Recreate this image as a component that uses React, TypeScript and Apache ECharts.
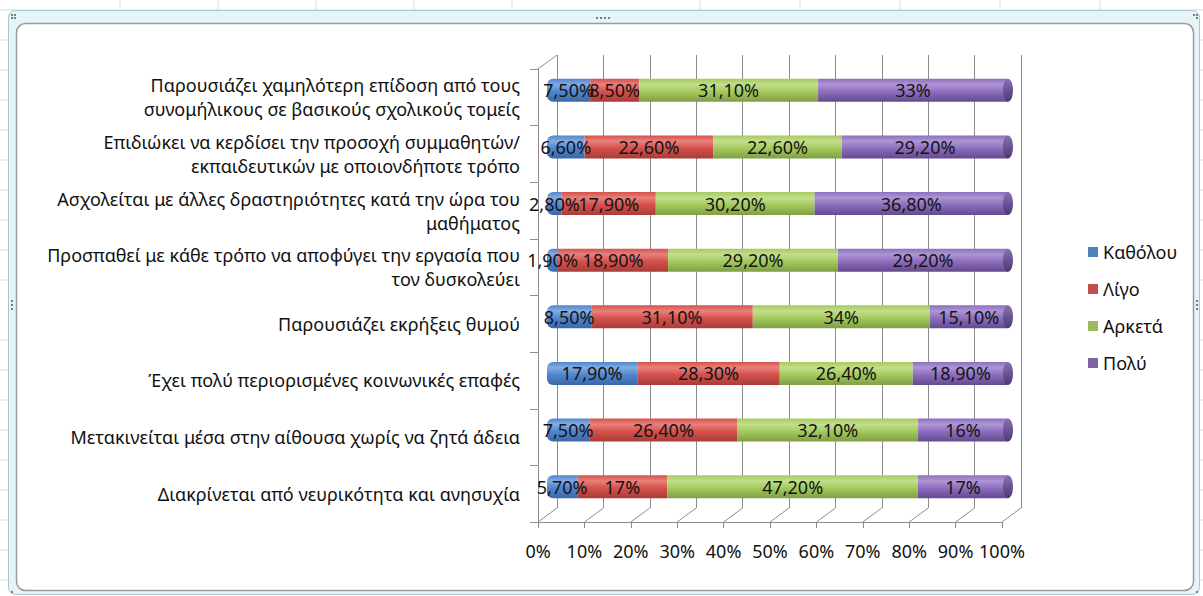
import React, { useEffect, useRef } from "react";
import * as echarts from "echarts";

const categories = [
  "Παρουσιάζει χαμηλότερη επίδοση από τους\nσυνομήλικους σε βασικούς σχολικούς τομείς",
  "Επιδιώκει να κερδίσει την προσοχή συμμαθητών/\nεκπαιδευτικών με οποιονδήποτε τρόπο",
  "Ασχολείται με άλλες δραστηριότητες κατά την ώρα του\nμαθήματος",
  "Προσπαθεί με κάθε τρόπο να αποφύγει την εργασία που\nτον δυσκολεύει",
  "Παρουσιάζει εκρήξεις θυμού",
  "Έχει πολύ περιορισμένες κοινωνικές επαφές",
  "Μετακινείται μέσα στην αίθουσα χωρίς να ζητά άδεια",
  "Διακρίνεται από νευρικότητα και ανησυχία",
];
const seriesNames = ["Καθόλου", "Λίγο", "Αρκετά", "Πολύ"];
const katholou = [7.5, 6.6, 2.8, 1.9, 8.5, 17.9, 7.5, 5.7];
const ligo = [8.5, 22.6, 17.9, 18.9, 31.1, 28.3, 26.4, 17];
const arketa = [31.1, 22.6, 30.2, 29.2, 34, 26.4, 32.1, 47.2];
const poly = [33, 29.2, 36.8, 29.2, 15.1, 18.9, 16, 17];
const xTicks = [0, 10, 20, 30, 40, 50, 60, 70, 80, 90, 100];

const legendColors = ["#4F81BD", "#C0504D", "#9BBB59", "#8064A2"];
const barShades = [
  ["#86ABE0", "#4F86D0", "#3B68A8"],
  ["#E8817D", "#D6514C", "#A83C38"],
  ["#C3DE8E", "#A5CB5E", "#7F9E45"],
  ["#AE96D4", "#8E6EBF", "#644A8E"],
];

const FONT = "Noto Sans";
const DX = 19;
const DY = -14;

function fmt(v: number) {
  return Number.isInteger(v) ? `${v}%` : `${v.toFixed(2).replace(".", ",")}%`;
}

export default function App() {
  const ref = useRef<HTMLDivElement>(null);
  useEffect(() => {
    document.body.style.margin = "0";
    if (!ref.current) return;
    const chart = echarts.init(ref.current, undefined, { renderer: "svg" });
    const raw = [katholou, ligo, arketa, poly];
    const totals = categories.map((_, i) => raw.reduce((s, a) => s + a[i], 0));

    const grad = (c: string[]) =>
      new echarts.graphic.LinearGradient(0, 0, 0, 1, [
        { offset: 0, color: c[1] },
        { offset: 0.25, color: c[0] },
        { offset: 0.55, color: c[1] },
        { offset: 1, color: c[2] },
      ]);

    const barSeries = raw.map((arr, si) => ({
      name: seriesNames[si],
      type: "bar",
      stack: "total",
      xAxisIndex: 2,
      yAxisIndex: 3,
      barWidth: 23,
      data: arr.map((v, i) => ({ value: (v / totals[i]) * 100, raw: v })),
      itemStyle: {
        color: grad(barShades[si]),
        borderRadius: si === 0 ? [6, 0, 0, 6] : 0,
      },
      label: {
        show: true,
        position: "inside",
        fontFamily: FONT,
        fontSize: 18,
        color: "#141414",
        formatter: (p: any) => fmt(p.data.raw),
      },
      emphasis: { disabled: true },
    }));

    const gridLineColor = "#8C8C8C";

    chart.setOption({
      animation: false,
      backgroundColor: "#fff",
      graphic: [
        { type: "line", shape: { x1: 0, y1: 10, x2: 1203, y2: 10 }, style: { stroke: "#D5DCE8", lineWidth: 1 }, z: -10 },
        ...[120, 218, 316, 414, 512, 700, 800, 900, 1000, 1100].map((x) => ({
          type: "line", shape: { x1: x, y1: 0, x2: x, y2: 10 }, style: { stroke: "#D5DCE8", lineWidth: 1 }, z: -10,
        })),
        ...[40, 70, 100, 130, 160, 190, 220, 250, 280, 340, 370, 400, 430, 460, 490, 520, 550, 580].map((y) => ({
          type: "line", shape: { x1: 0, y1: y, x2: 1203, y2: y }, style: { stroke: "#D5DCE8", lineWidth: 1 }, z: -10,
        })),
        {
          type: "rect",
          shape: { x: 8.5, y: 10.5, width: 1191, height: 584, r: 7 },
          style: { fill: "#E4F4F7", stroke: "#A9C6CF", lineWidth: 1 },
          z: -9,
        },
        {
          type: "rect",
          shape: { x: 16.5, y: 23.5, width: 1177, height: 567, r: 9 },
          style: { fill: "#FFFFFF", stroke: "#9A9A9A", lineWidth: 1.5 },
          z: -8,
        },
        ...[[11, 14], [14, 14], [11, 17], [14, 17], [1193, 14], [1196, 14], [1196, 17], [1196, 591], [11, 591], [596, 17], [600, 17], [604, 17], [608, 17], [11, 300], [11, 304], [11, 308], [1196, 300], [1196, 304], [1196, 308]].map(([x, y]) => ({
          type: "rect", shape: { x, y, width: 2, height: 2 }, style: { fill: "#6E7F86" }, z: -7,
        })),
      ],
      legend: {
        orient: "vertical",
        left: 1083,
        top: 238,
        itemWidth: 10,
        itemHeight: 10,
        itemGap: 19,
        icon: "rect",
        textStyle: { fontFamily: FONT, fontSize: 18, color: "#111" },
        data: seriesNames.map((n, i) => ({ name: n, itemStyle: { color: legendColors[i] } })),
      },
      grid: [
        { left: 538 + DX, top: 69 + DY, width: 464, height: 453, containLabel: false },
        { left: 538, top: 69, width: 464, height: 453, containLabel: false },
        { left: 547, top: 62, width: 461, height: 453, containLabel: false },
      ],
      xAxis: [
        {
          gridIndex: 0, type: "value", min: 0, max: 100, interval: 10,
          axisLine: { show: false }, axisTick: { show: false }, axisLabel: { show: false },
          splitLine: { show: true, lineStyle: { color: gridLineColor, width: 1 } },
        },
        {
          gridIndex: 1, type: "value", min: 0, max: 100, interval: 10,
          axisLine: { show: true, lineStyle: { color: gridLineColor } },
          axisTick: { show: true, length: 6, lineStyle: { color: gridLineColor } },
          axisLabel: { show: true, formatter: "{value}%", fontFamily: FONT, fontSize: 18, color: "#111", margin: 20 },
          splitLine: { show: false },
        },
        {
          gridIndex: 2, type: "value", min: 0, max: 100, show: false,
        },
      ],
      yAxis: [
        { gridIndex: 0, type: "category", data: categories, show: false },
        {
          gridIndex: 1, type: "category", data: categories, inverse: true,
          axisLine: { show: true, lineStyle: { color: gridLineColor } },
          axisTick: { show: true, length: 8, lineStyle: { color: gridLineColor } },
          axisLabel: {
            fontFamily: FONT, fontSize: 18, color: "#111", margin: 18, lineHeight: 24, align: "right",
          },
          splitLine: { show: false },
        },
        { gridIndex: 1, type: "value", min: 0, max: 1, show: false },
        { gridIndex: 2, type: "category", data: categories, inverse: true, show: false },
      ],
      series: [
        {
          type: "custom",
          xAxisIndex: 1,
          yAxisIndex: 2,
          silent: true,
          data: xTicks,
          renderItem: (params: any, api: any) => {
            const v = api.value(0);
            const p = api.coord([v, 0]);
            const children: any[] = [
              { type: "line", shape: { x1: p[0], y1: p[1], x2: p[0] + DX, y2: p[1] + DY }, style: { stroke: gridLineColor, lineWidth: 1 } },
            ];
            if (v === 0) {
              const t = api.coord([0, 1]);
              children.push({ type: "line", shape: { x1: t[0], y1: t[1], x2: t[0] + DX, y2: t[1] + DY }, style: { stroke: gridLineColor, lineWidth: 1 } });
            }
            return { type: "group", children };
          },
          z: 1,
        },
        ...barSeries,
        {
          type: "custom",
          xAxisIndex: 2,
          yAxisIndex: 3,
          silent: true,
          data: categories.map((_, i) => [100, i]),
          renderItem: (params: any, api: any) => {
            const p = api.coord([api.value(0), api.value(1)]);
            return {
              type: "ellipse",
              shape: { cx: p[0], cy: p[1], rx: 5, ry: 11.5 },
              style: {
                fill: new echarts.graphic.LinearGradient(0, 0, 0, 1, [
                  { offset: 0, color: "#8A70B4" },
                  { offset: 1, color: "#4E3873" },
                ]),
              },
            };
          },
          z: 3,
        },
      ],
    });
    return () => chart.dispose();
  }, []);
  return <div ref={ref} style={{ width: 1203, height: 596 }} />;
}
